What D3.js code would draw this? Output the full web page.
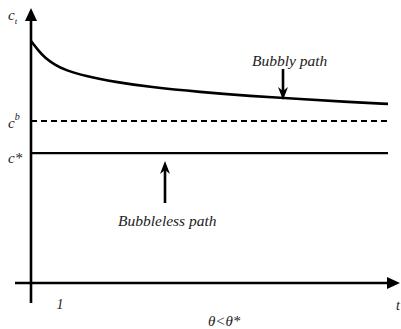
<!DOCTYPE html>
<html>
<head>
<meta charset="utf-8">
<script src="https://cdn.jsdelivr.net/npm/d3@7/dist/d3.min.js"></script>
<style>
  html, body { margin: 0; padding: 0; background: #fff; }
  svg { display: block; }
</style>
</head>
<body>
<div id="chart"></div>
<script>
// Time grid and consumption along the bubbly path
const timePoints = [0, 0.24, 0.48, 0.83, 1.17, 1.86, 2.9, 4.1, 5.83, 7.55, 9.28, 11.0, 12.31];
const bubblyPath = [92.0, 88.6, 85.6, 82.9, 81.0, 78.7, 76.4, 74.5, 72.6, 71.1, 70.0, 68.8, 68.1];
// Steady-state levels
const levelBubble = [61.6];     // c^b
const levelBubbleless = [49.4]; // c*
const xTickLabels = [1];
const tEnd = 12.31;

const W = 401, H = 329;
const SERIF = '"Liberation Serif", "Times New Roman", "DejaVu Serif", serif';
const svg = d3.select("#chart").append("svg").attr("width", W).attr("height", H);

const x = d3.scaleLinear().domain([0, tEnd]).range([31, 388]);
const y = d3.scaleLinear().domain([0, 100]).range([283, 20]);

function label(xp, yp, size) {
  return svg.append("text").attr("x", xp).attr("y", yp)
    .attr("font-family", SERIF).attr("font-style", "italic")
    .attr("font-size", size).attr("fill", "#222");
}

// Axes: plain lines with solid arrowheads
const x0 = x(0), y0 = y(0);
svg.append("line").attr("x1", x0).attr("x2", x0).attr("y1", 303).attr("y2", 18)
  .attr("stroke", "#000").attr("stroke-width", 2.6);
svg.append("path").attr("d", `M${x0},8 L${x0 - 6},21 L${x0 + 6},21 Z`).attr("fill", "#000");

svg.append("line").attr("x1", 15).attr("x2", 390).attr("y1", y0).attr("y2", y0)
  .attr("stroke", "#000").attr("stroke-width", 2.6);
svg.append("path").attr("d", `M400,${y0} L387,${y0 - 6} L387,${y0 + 6} Z`).attr("fill", "#000");

// Bubbly path
const line = d3.line().x((d, i) => x(timePoints[i])).y(d => y(d)).curve(d3.curveBasis);
svg.append("path").datum(bubblyPath).attr("d", line)
  .attr("fill", "none").attr("stroke", "#000").attr("stroke-width", 2.6);

// c^b (dashed) and c* (solid) levels
svg.selectAll("line.cb").data(levelBubble).join("line").attr("class", "cb")
  .attr("x1", x(0)).attr("x2", x(tEnd)).attr("y1", d => y(d)).attr("y2", d => y(d))
  .attr("stroke", "#000").attr("stroke-width", 2.2).attr("stroke-dasharray", "6,4");
svg.selectAll("line.cs").data(levelBubbleless).join("line").attr("class", "cs")
  .attr("x1", x(0)).attr("x2", x(tEnd)).attr("y1", d => y(d)).attr("y2", d => y(d))
  .attr("stroke", "#000").attr("stroke-width", 2.2);

// Pointer arrows
function arrow(xp, yFrom, yTo) {
  const dir = yTo > yFrom ? 1 : -1;
  const headLen = 13, headW = 5;
  svg.append("line").attr("x1", xp).attr("x2", xp).attr("y1", yFrom).attr("y2", yTo - dir * headLen * 0.6)
    .attr("stroke", "#000").attr("stroke-width", 2.6);
  svg.append("path")
    .attr("d", `M${xp},${yTo} L${xp - headW},${yTo - dir * headLen} L${xp},${yTo - dir * headLen * 0.7} L${xp + headW},${yTo - dir * headLen} Z`)
    .attr("fill", "#000");
}
arrow(283, 69, 100);
arrow(165, 203, 161);

// Labels
label(252, 66, 15.5).text("Bubbly path");
label(118, 226, 15.5).text("Bubbleless path");

const ct = label(8, 20, 15);
ct.append("tspan").text("c");
ct.append("tspan").attr("font-size", 9).attr("dy", 4).text("t");

const cb = label(8, 128, 15);
cb.append("tspan").text("c");
cb.append("tspan").attr("font-size", 10).attr("dy", -8).text("b");

label(8, 163, 15).text("c*");

svg.selectAll("text.tick").data(xTickLabels).join("text").attr("class", "tick")
  .attr("x", d => x(d)).attr("y", 309).attr("text-anchor", "middle")
  .attr("font-family", SERIF).attr("font-style", "italic").attr("font-size", 14).attr("fill", "#222")
  .text(d => d);
label(398, 310, 14).attr("text-anchor", "middle").text("t");

label(208, 326, 15).text("θ<θ*");
</script>
</body>
</html>
